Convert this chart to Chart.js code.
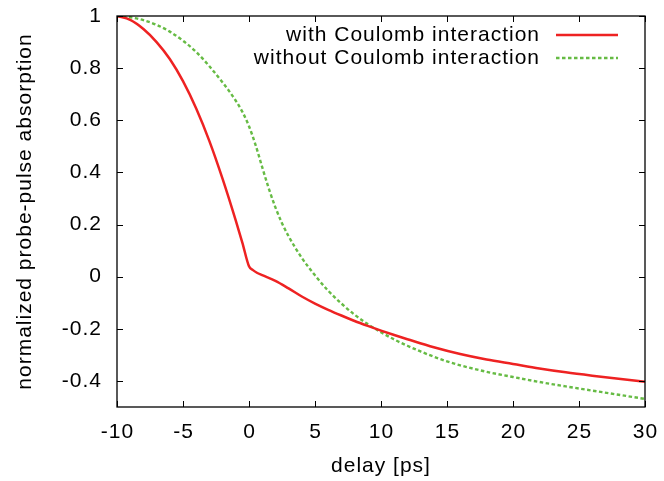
<!DOCTYPE html>
<html>
<head>
<meta charset="utf-8">
<script src="https://cdn.jsdelivr.net/npm/chart.js@4"></script>
<style>
html,body{margin:0;padding:0;background:#fff;}
#wrap{width:664px;height:481px;}
</style>
</head>
<body>
<div id="wrap"><canvas id="c" width="664" height="481"></canvas></div>
<script>
const seriesNames = ["with Coulomb interaction", "without Coulomb interaction"];
const xTickValues = [-10, -5, 0, 5, 10, 15, 20, 25, 30];
const yTickValues = [-0.4, -0.2, 0, 0.2, 0.4, 0.6, 0.8, 1];
const xAxisTitle = "delay [ps]";
const yAxisTitle = "normalized probe-pulse absorption";

const withX = [-10, -9, -8, -7, -6, -5, -4, -3, -2, -1, -0.5, 0, 0.3, 0.6, 1, 2, 3, 4, 5, 6, 7, 8, 9, 10, 11, 12, 14, 16, 18, 20, 22, 24, 26, 28, 30];
const withY = [1.0, 0.985, 0.95, 0.9, 0.835, 0.75, 0.645, 0.52, 0.375, 0.215, 0.13, 0.04, 0.025, 0.015, 0.006, -0.016, -0.045, -0.076, -0.103, -0.127, -0.149, -0.17, -0.189, -0.207, -0.224, -0.24, -0.271, -0.297, -0.318, -0.335, -0.352, -0.367, -0.38, -0.392, -0.403];

const withoutX = [-10, -9, -8, -7, -6, -5, -4, -3, -2, -1, -0.5, 0, 0.5, 1, 1.5, 2, 2.5, 3, 4, 5, 6, 7, 8, 9, 10, 11, 12, 13, 14, 15, 16, 18, 20, 22, 24, 26, 28, 30];
const withoutY = [1.0, 0.995, 0.984, 0.966, 0.94, 0.905, 0.862, 0.807, 0.745, 0.675, 0.632, 0.577, 0.505, 0.42, 0.338, 0.266, 0.205, 0.155, 0.072, 0.005, -0.054, -0.103, -0.146, -0.182, -0.213, -0.241, -0.265, -0.287, -0.307, -0.325, -0.34, -0.365, -0.385, -0.404, -0.421, -0.437, -0.453, -0.469];

const FONT = "'Liberation Sans', Arial, Helvetica, sans-serif";
const FONT_SIZE = 21;
const RED = '#ee2222';
const GREEN = '#66bb44';

function pts(xs, ys){ return xs.map((x,i)=>({x:x, y:ys[i]})); }

function drawText(ctx, text, x, y, align){
  ctx.textAlign = align;
  ctx.fillText(text, x, y);
}

const frameTicks = {
  id: 'frameTicks',
  afterDraw(chart){
    const ctx = chart.ctx, a = chart.chartArea;
    const xs = chart.scales.x, ys = chart.scales.y;
    ctx.save();
    ctx.strokeStyle = '#000';
    ctx.lineWidth = 1.3;
    ctx.strokeRect(a.left, a.top, a.right - a.left, a.bottom - a.top);
    ctx.lineWidth = 1;
    const L = 6;
    ctx.beginPath();
    xTickValues.forEach(v=>{
      const px = Math.round(xs.getPixelForValue(v)) + 0.5;
      ctx.moveTo(px, a.bottom); ctx.lineTo(px, a.bottom - L);
      ctx.moveTo(px, a.top); ctx.lineTo(px, a.top + L);
    });
    yTickValues.forEach(v=>{
      const py = Math.round(ys.getPixelForValue(v)) + 0.5;
      ctx.moveTo(a.left, py); ctx.lineTo(a.left + L, py);
      ctx.moveTo(a.right, py); ctx.lineTo(a.right - L, py);
    });
    ctx.stroke();

    ctx.font = FONT_SIZE + 'px ' + FONT;
    try { ctx.letterSpacing = '1px'; } catch(e) {}
    ctx.fillStyle = '#000';
    ctx.textBaseline = 'middle';
    xTickValues.forEach(v=>{
      drawText(ctx, String(v), xs.getPixelForValue(v) + 0.5, a.bottom + 25, 'center');
    });
    yTickValues.forEach(v=>{
      drawText(ctx, String(Math.round(v*10)/10), a.left - 15, ys.getPixelForValue(v), 'right');
    });
    drawText(ctx, xAxisTitle, (a.left + a.right)/2, 466, 'center');
    ctx.save();
    ctx.translate(25, (a.top + a.bottom)/2);
    ctx.rotate(-Math.PI/2);
    drawText(ctx, yAxisTitle, 0, 0, 'center');
    ctx.restore();

    const rows = [35, 58];
    chart.data.datasets.forEach((ds, i)=>{
      drawText(ctx, ds.label, 540, rows[i], 'right');
      ctx.save();
      ctx.strokeStyle = ds.borderColor;
      ctx.lineWidth = ds.borderWidth;
      ctx.setLineDash(ds.borderDash || []);
      ctx.beginPath();
      ctx.moveTo(556, rows[i]); ctx.lineTo(618, rows[i]);
      ctx.stroke();
      ctx.restore();
    });
    ctx.restore();
  }
};

new Chart(document.getElementById('c'), {
  type: 'line',
  data: {
    datasets: [
      { label: seriesNames[0], data: pts(withX, withY), borderColor: RED, borderWidth: 2.5, pointRadius: 0, fill: false, cubicInterpolationMode: 'monotone' },
      { label: seriesNames[1], data: pts(withoutX, withoutY), borderColor: GREEN, borderWidth: 2.4, borderDash: [3.5, 2.5], pointRadius: 0, fill: false, cubicInterpolationMode: 'monotone' }
    ]
  },
  options: {
    responsive: false,
    animation: false,
    devicePixelRatio: 1,
    layout: { padding: { top: 16, right: 19, left: 0, bottom: 0 } },
    plugins: { legend: { display: false }, tooltip: { enabled: false } },
    scales: {
      x: {
        type: 'linear', min: -10, max: 30,
        afterBuildTicks(s){ s.ticks = xTickValues.map(v=>({value:v})); },
        afterFit(s){ s.height = 74; },
        grid: { display: false, drawTicks: false },
        border: { display: false },
        ticks: { display: false }
      },
      y: {
        type: 'linear', min: -0.5, max: 1,
        afterBuildTicks(s){ s.ticks = yTickValues.map(v=>({value:v})); },
        afterFit(s){ s.width = 117; },
        grid: { display: false, drawTicks: false },
        border: { display: false },
        ticks: { display: false }
      }
    }
  },
  plugins: [frameTicks]
});
</script>
</body>
</html>
